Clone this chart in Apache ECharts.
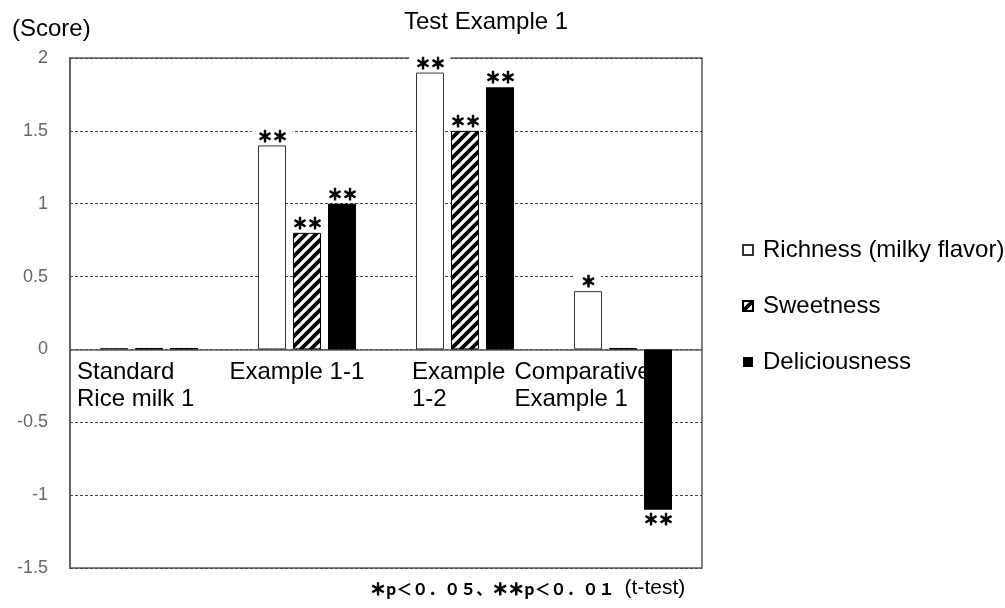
<!DOCTYPE html>
<html><head><meta charset="utf-8">
<script src="https://cdn.jsdelivr.net/npm/echarts@6/dist/echarts.min.js"></script>
<style>html,body{margin:0;padding:0;background:#fff}#c{width:1005px;height:608px}</style>
</head><body><div id="c"></div>
<script>
// ---- data ----
const categories = ['Standard\nRice milk 1', 'Example 1-1', 'Example\n1-2', 'Comparative\nExample 1'];
const seriesNames = ['Richness (milky flavor)', 'Sweetness', 'Deliciousness'];
const richness = [0.01, 1.4, 1.9, 0.4];
const sweetness = [0.01, 0.8, 1.5, 0.01];
const deliciousness = [0.01, 1.0, 1.8, -1.1];
const richnessSig = ['', '＊＊', '＊＊', '＊'];
const sweetnessSig = ['', '＊＊', '＊＊', ''];
const deliciousnessSig = ['', '＊＊', '＊＊', '＊＊'];
const yMin = -1.5, yMax = 2, yStep = 0.5;
const titleText = 'Test Example 1';
const yName = '(Score)';
const noteText = '＊p＜０．０５、＊＊p＜０．０１';
const noteTest = '(t-test)';

// ---- styles / layout ----
const FONT = '"Liberation Sans", Arial, sans-serif';
const CJK = '"Noto Sans CJK JP", sans-serif';
const labelBoxW = [144, 155, 106, 217];
const gridTop = 58, gridBottom = 40, chartH = 608;
const gridH = chartH - gridTop - gridBottom;
const zeroOffset = -(0 - yMin) / (yMax - yMin) * gridH;

const pat = document.createElement('canvas');
pat.width = 10; pat.height = 10;
const g = pat.getContext('2d');
g.fillStyle = '#fff'; g.fillRect(0, 0, 10, 10);
g.strokeStyle = '#000'; g.lineWidth = 3.8;
g.beginPath();
g.moveTo(-5, 5); g.lineTo(5, -5);
g.moveTo(0, 10); g.lineTo(10, 0);
g.moveTo(5, 15); g.lineTo(15, 5);
g.stroke();

const rich = {};
labelBoxW.forEach((w, i) => {
  rich['c' + i] = { width: w, align: 'left', fontSize: 24, lineHeight: 27, color: '#000', fontFamily: FONT };
});

function sigLabel(sig) {
  return {
    show: true, position: 'outside', distance: 2,
    formatter: p => sig[p.dataIndex],
    fontFamily: CJK, fontSize: 15, fontWeight: 'bold', color: '#000',
    textBorderColor: '#000', textBorderWidth: 1.2,
    backgroundColor: '#fff', padding: [0, 5, 0, 6], lineHeight: 15
  };
}

const noteRich = noteText.split('').map(ch => (ch === '＊' ? '{s|' : '{a|') + ch + '}').join('');

const chart = echarts.init(document.getElementById('c'));
chart.setOption({
  animation: false,
  backgroundColor: '#fff',
  title: [
    { text: titleText, left: 404, top: 10, padding: 0, textStyle: { fontFamily: FONT, fontSize: 24, fontWeight: 'normal', color: '#000' } },
    { text: yName, left: 12, top: 17, padding: 0, textStyle: { fontFamily: FONT, fontSize: 24, fontWeight: 'normal', color: '#000' } },
    { text: noteRich + '{b|' + noteTest + '}', left: 370, top: 578, padding: 0,
      textStyle: { fontWeight: 'normal', rich: {
        s: { fontFamily: CJK, fontSize: 16, color: '#000', fontWeight: 'bold', textBorderColor: '#000', textBorderWidth: 1 },
        a: { fontFamily: CJK, fontSize: 16, color: '#000', fontWeight: 'bold' },
        b: { fontFamily: FONT, fontSize: 21, color: '#000', fontWeight: 'normal', padding: [0, 0, 0, 10] }
      } } }
  ],
  legend: {
    orient: 'vertical', left: 742, top: 237, padding: 0, itemWidth: 10, itemHeight: 10, itemGap: 30,
    icon: 'rect',
    textStyle: { fontFamily: FONT, fontSize: 24, color: '#000', lineHeight: 26, padding: [0, 0, 0, 5] },
    data: seriesNames
  },
  grid: { left: 70, right: 303, top: gridTop, bottom: gridBottom, show: true, borderColor: '#5a5a5a', borderWidth: 1.5, backgroundColor: 'transparent' },
  xAxis: {
    type: 'category', data: categories, position: 'bottom', offset: zeroOffset,
    axisTick: { show: false },
    axisLine: { onZero: false, lineStyle: { color: '#5a5a5a', width: 1.5 } },
    axisLabel: {
      interval: 0, margin: 9,
      formatter: (v, i) => v.split('\n').map(l => '{c' + i + '|' + l + '}').join('\n'),
      rich: rich
    }
  },
  yAxis: {
    type: 'value', min: yMin, max: yMax, interval: yStep,
    axisLine: { show: true, lineStyle: { color: '#5a5a5a', width: 1.5 } },
    axisTick: { show: false },
    axisLabel: { fontFamily: FONT, fontSize: 18, color: '#666', margin: 22 },
    splitLine: { lineStyle: { color: '#444', type: [3, 2], width: 1 } }
  },
  series: [
    { name: seriesNames[0], type: 'bar', data: richness, barWidth: 28, barGap: '25%',
      itemStyle: { color: '#fff', borderColor: '#333', borderWidth: 1 }, label: sigLabel(richnessSig) },
    { name: seriesNames[1], type: 'bar', data: sweetness, barWidth: 28, barGap: '25%',
      itemStyle: { color: { image: pat, repeat: 'repeat' }, borderColor: '#000', borderWidth: 1 }, label: sigLabel(sweetnessSig) },
    { name: seriesNames[2], type: 'bar', data: deliciousness, barWidth: 28, barGap: '25%',
      itemStyle: { color: '#000' }, label: sigLabel(deliciousnessSig) }
  ]
});
</script></body></html>
